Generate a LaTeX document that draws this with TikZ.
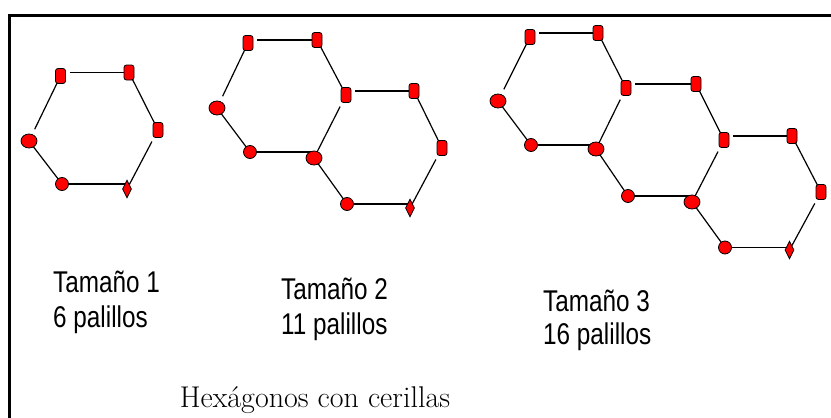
\documentclass[tikz,border=0pt]{standalone}
\usepackage{fontspec}
\newfontfamily\lab[FakeStretch=0.81]{Liberation Sans}
\usetikzlibrary{shapes.geometric,backgrounds}
\tikzset{
  dotbase/.style={draw=black,line width=0.8pt,fill=red,inner sep=0pt},
  vrect/.style={dotbase,rectangle,rounded corners=2.5pt,minimum width=10pt,minimum height=15pt},
  lell/.style={dotbase,ellipse,minimum width=16pt,minimum height=14pt},
  bcirc/.style={dotbase,circle,minimum size=13pt},
  bdia/.style={dotbase,diamond,minimum width=9pt,minimum height=18pt},
  stick/.style={draw=black,line width=1.2pt},
  hstick/.style={draw=black,line width=1.6pt},
  topstick/.style={hstick,shorten <=9pt},
  gapstart/.style={stick,shorten <=13pt},
  labtext/.style={anchor=base west,inner sep=0pt,font=\lab\fontsize{30}{36}\selectfont},
  title/.style={anchor=base,inner sep=0pt,font=\fontsize{30}{36}\selectfont}
}
\begin{document}
\begin{tikzpicture}[x=1pt,y=-1pt]
\useasboundingbox (0,0) rectangle (831,418);
% frame
\draw[line width=3pt] (9.7,418) -- (9.7,15) -- (831,15);

% ---------- size 1 ----------
\node[vrect] (a1) at (60.5,76) {};
\node[vrect] (a2) at (129,72.5) {};
\node[vrect] (a3) at (158,130) {};
\node[bdia]  (a4) at (127,189) {};
\node[bcirc] (a5) at (62,184) {};
\node[lell]  (a6) at (29,141) {};

% ---------- size 2 ----------
\node[vrect] (b1) at (248,43) {};
\node[vrect] (b2) at (317,40) {};
\node[vrect] (b3) at (346,95) {};
\node[lell]  (b4) at (314,158) {};
\node[bcirc] (b5) at (250,152) {};
\node[lell]  (b6) at (217,108) {};
\node[vrect] (b7) at (414,91) {};
\node[vrect] (b8) at (442,148) {};
\node[bdia]  (b9) at (410,208) {};
\node[bcirc] (b10) at (347,204) {};

% ---------- size 3 ----------
\node[vrect] (c1) at (530,37) {};
\node[vrect] (c2) at (598,33) {};
\node[vrect] (c3) at (626,88) {};
\node[lell]  (c4) at (596,149) {};
\node[bcirc] (c5) at (531,145) {};
\node[lell]  (c6) at (498,101) {};
\node[vrect] (c7) at (696,84) {};
\node[vrect] (c8) at (724,140) {};
\node[lell]  (c9) at (692,202) {};
\node[bcirc] (c10) at (628,196) {};
\node[vrect] (c11) at (792,136) {};
\node[vrect] (c12) at (821,192) {};
\node[bdia]  (c13) at (789.5,250) {};
\node[bcirc] (c14) at (725,247.5) {};

\begin{scope}[on background layer]
% size 1
\draw[topstick] (a1.center |- a2.center) -- (a2.center);
\draw[stick] (a2.center) -- (a3.center);
\draw[gapstart] (a3.center) -- (a4.center);
\draw[hstick] (a4.center |- a5.center) -- (a5.center);
\draw[stick] (a5.center) -- (a6.center);
\draw[gapstart] (a6.center) -- (a1.center);
% size 2
\draw[topstick] (b1.center |- b2.center) -- (b2.center);
\draw[stick] (b2.center) -- (b3.center);
\draw[gapstart] (b3.center) -- (b4.center);
\draw[hstick] (b4.center |- b5.center) -- (b5.center);
\draw[stick] (b5.center) -- (b6.center);
\draw[gapstart] (b6.center) -- (b1.center);
\draw[topstick] (b3.center |- b7.center) -- (b7.center);
\draw[stick] (b7.center) -- (b8.center);
\draw[gapstart] (b8.center) -- (b9.center);
\draw[hstick] (b9.center |- b10.center) -- (b10.center);
\draw[stick] (b10.center) -- (b4.center);
% size 3
\draw[topstick] (c1.center |- c2.center) -- (c2.center);
\draw[stick] (c2.center) -- (c3.center);
\draw[gapstart] (c3.center) -- (c4.center);
\draw[hstick] (c4.center |- c5.center) -- (c5.center);
\draw[stick] (c5.center) -- (c6.center);
\draw[gapstart] (c6.center) -- (c1.center);
\draw[topstick] (c3.center |- c7.center) -- (c7.center);
\draw[stick] (c7.center) -- (c8.center);
\draw[gapstart] (c8.center) -- (c9.center);
\draw[hstick] (c9.center |- c10.center) -- (c10.center);
\draw[stick] (c10.center) -- (c4.center);
\draw[topstick] (c8.center |- c11.center) -- (c11.center);
\draw[stick] (c11.center) -- (c12.center);
\draw[gapstart] (c12.center) -- (c13.center);
\draw[hstick] (c13.center |- c14.center) -- (c14.center);
\draw[stick] (c14.center) -- (c9.center);
\end{scope}

% labels
\node[labtext] (t1a) at (53,292) {Tamaño 1};
\node[labtext] (t1b) at (53,327) {6 palillos};
\node[labtext] (t2a) at (281,299) {Tamaño 2};
\node[labtext] (t2b) at (281,334) {11 palillos};
\node[labtext] (t3a) at (543,311) {Tamaño 3};
\node[labtext] (t3b) at (543,344) {16 palillos};
\node[title] (tt) at (315,407) {Hexágonos con cerillas};
\end{tikzpicture}
\end{document}
